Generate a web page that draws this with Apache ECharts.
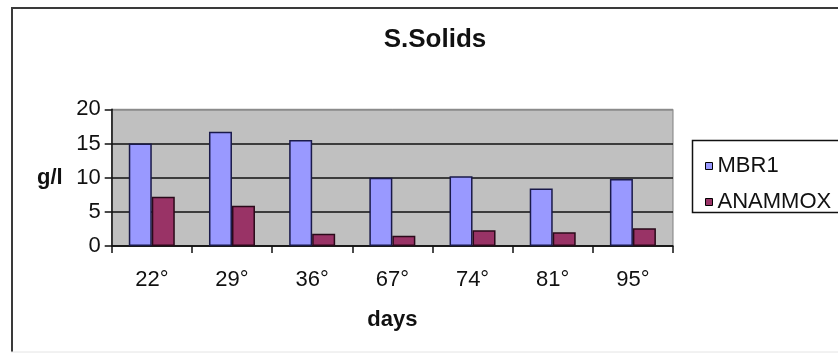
<!DOCTYPE html>
<html>
<head>
<meta charset="utf-8">
<script src="https://cdn.jsdelivr.net/npm/echarts@6/dist/echarts.min.js"></script>
<style>html,body{margin:0;padding:0;background:#fff;}#c{width:838px;height:358px;}</style>
</head>
<body>
<div id="c"></div>
<script>
var categories = ['22°', '29°', '36°', '67°', '74°', '81°', '95°'];
var mbr1 = [15, 16.7, 15.5, 10, 10.2, 8.4, 9.8];
var anammox = [7.2, 5.9, 1.8, 1.5, 2.3, 2.0, 2.6];
var yTicks = [0, 5, 10, 15, 20];

var chart = echarts.init(document.getElementById('c'), null, {renderer: 'canvas'});
var font = 'Liberation Sans, Arial, sans-serif';
chart.setOption({
  animation: false,
  backgroundColor: '#fff',
  title: {
    text: 'S.Solids', left: 430, textAlign: 'center', top: 22,
    textStyle: {fontFamily: font, fontSize: 26, fontWeight: 'bold', color: '#111'}
  },
  graphic: [
    {type: 'line', shape: {x1: 11, y1: 8, x2: 900, y2: 8}, style: {stroke: '#3a3a3a', lineWidth: 2}, z: 100},
    {type: 'line', shape: {x1: 12, y1: 7, x2: 12, y2: 352}, style: {stroke: '#3a3a3a', lineWidth: 2}, z: 100},
    {type: 'line', shape: {x1: 11, y1: 352, x2: 900, y2: 352}, style: {stroke: '#e4e4e4', lineWidth: 1}, z: 100},
    {type: 'rect', shape: {x: 692.5, y: 140.5, width: 200, height: 72}, style: {fill: '#fff', stroke: '#111', lineWidth: 1.5}, z: 0}
  ],
  legend: {
    orient: 'vertical', left: 700, top: 150,
    itemWidth: 7, itemHeight: 7, itemGap: 14, itemTextGap: 13,
    textStyle: {fontFamily: font, fontSize: 22, color: '#111', lineHeight: 22},
    data: [
      {name: 'MBR1', icon: 'rect', itemStyle: {borderColor: '#000', borderWidth: 1}},
      {name: 'ANAMMOX', icon: 'rect', itemStyle: {borderColor: '#000', borderWidth: 1}}
    ],
    z: 5
  },
  grid: {
    left: 111.7, right: 165, top: 109.3, bottom: 112,
    show: true, backgroundColor: '#c0c0c0', borderColor: '#808080', borderWidth: 1
  },
  xAxis: {
    type: 'category', data: categories,
    name: 'days', nameLocation: 'middle', nameGap: 63,
    nameTextStyle: {fontFamily: font, fontSize: 22, fontWeight: 'bold', color: '#111'},
    axisLine: {lineStyle: {color: '#111', width: 1.5}},
    axisTick: {show: true, length: 7, alignWithLabel: false, lineStyle: {color: '#111', width: 1.5}},
    axisLabel: {margin: 23, fontFamily: font, fontSize: 22, color: '#111'}
  },
  yAxis: {
    type: 'value', min: 0, max: 20, interval: 5,
    name: 'g/l', nameLocation: 'middle', nameRotate: 0, nameGap: 49,
    nameTextStyle: {fontFamily: font, fontSize: 22, fontWeight: 'bold', color: '#111', align: 'right'},
    axisLine: {show: true, lineStyle: {color: '#111', width: 1.5}},
    axisTick: {show: true, length: 7, lineStyle: {color: '#111', width: 1.5}},
    axisLabel: {margin: 11, fontFamily: font, fontSize: 22, color: '#111',
      formatter: function (v) { return yTicks.indexOf(v) >= 0 ? String(v) : ''; }},
    splitLine: {show: true, lineStyle: {color: ['#111', '#111', '#111', '#111', '#8a8a8a'], width: 1.5}}
  },
  series: [
    {name: 'MBR1', type: 'bar', data: mbr1, barWidth: 23, barGap: '0%',
      itemStyle: {color: '#9999ff', borderColor: '#1a1a4a', borderWidth: 1.5}},
    {name: 'ANAMMOX', type: 'bar', data: anammox, barWidth: 23, barGap: '0%',
      itemStyle: {color: '#993366', borderColor: '#2a0a1a', borderWidth: 1.5}}
  ]
});
</script>
</body>
</html>
